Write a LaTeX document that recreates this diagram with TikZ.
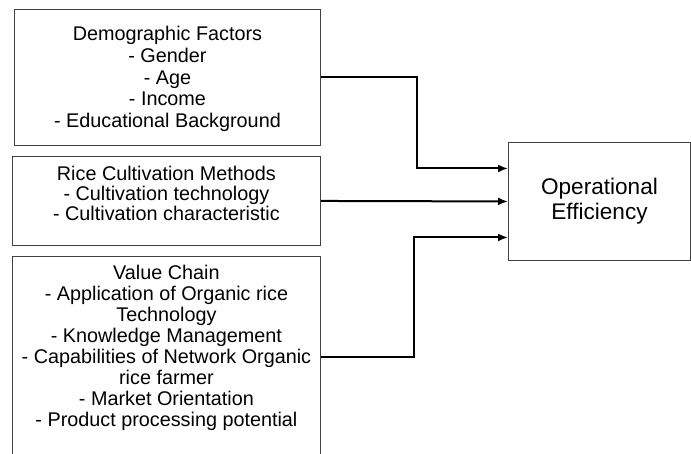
\documentclass[tikz,border=0pt]{standalone}
\usepackage{fontspec}
\setmainfont{Liberation Sans}
\usetikzlibrary{positioning,arrows.meta}
\begin{document}
\begin{tikzpicture}[x=1pt, y=-1pt,
    factor/.style={draw=black!75, line width=0.9pt, anchor=north west, inner sep=0pt},
    factortext/.style={align=center, inner sep=0pt, font=\fontsize{19.8}{21}\selectfont},
    flow/.style={line width=2pt, -{Latex[length=10pt,width=8pt]}}]
    \useasboundingbox (0,0) rectangle (691,453);
    \clip (0,0) rectangle (691,453);
    % the three groups of factors
    \node[factor, minimum width=306pt, minimum height=136pt] (demog) at (14,9) {};
    \node[factortext, font=\fontsize{19.8}{21.7}\selectfont] (demog text) at ([yshift=-1.5pt]demog.center) {Demographic Factors\\- Gender\\- Age\\- Income\\- Educational Background};
    \node[factor, minimum width=308pt, minimum height=89pt] (rice) at (12,156) {};
    \node[factortext, font=\fontsize{19.8}{20}\selectfont] (rice text) at ([yshift=8pt]rice.center) {Rice Cultivation Methods\\- Cultivation technology\\- Cultivation characteristic};
    \node[factor, minimum width=308pt, minimum height=202pt] (value) at (12,256) {};
    \node[factortext] (value text) at ([yshift=9.5pt]value.center) {Value Chain\\- Application of Organic rice\\Technology\\- Knowledge Management\\- Capabilities of Network Organic\\rice farmer\\- Market Orientation\\- Product processing potential};
    % outcome
    \node[factor, minimum width=182pt, minimum height=118pt, align=center,
        font=\fontsize{22.6}{25}\selectfont] (oper) at (508,142) {Operational\\Efficiency};
    \draw[flow] (demog.east) -- ++(96,0) |- ([yshift=33pt]oper.west);
    \draw[flow] (rice.east) -- (oper.west);
    \draw[flow] (value.east) -- ++(93,0) |- ([yshift=-36pt]oper.west);
\end{tikzpicture}
\end{document}
